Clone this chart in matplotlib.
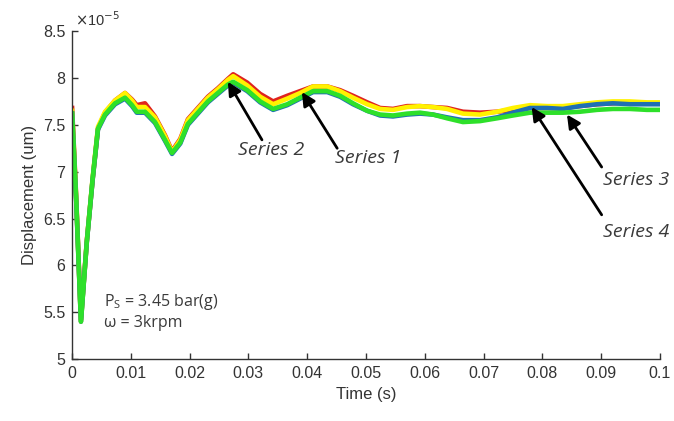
import matplotlib
matplotlib.use('Agg')
import matplotlib.pyplot as plt

# time axis (s) and displacement traces (x1e-5 um) for the four runs
time = [0, 0.0007, 0.0015, 0.0025, 0.0035, 0.0044, 0.0056, 0.0073, 0.009, 0.0102,
        0.011, 0.0124, 0.0141, 0.0158, 0.017, 0.0184, 0.0197, 0.0214, 0.0231, 0.0248,
        0.0265, 0.0274, 0.0298, 0.032, 0.0342, 0.0366, 0.0388, 0.041, 0.0434, 0.0456,
        0.0478, 0.0502, 0.0524, 0.0546, 0.057, 0.0592, 0.0614, 0.0638, 0.0665, 0.0694,
        0.0723, 0.075, 0.0779, 0.0808, 0.0835, 0.0864, 0.0893, 0.092, 0.0949, 0.0978, 0.1]

series_red = [7.68, 6.72, 5.42, 6.26, 6.92, 7.46, 7.63, 7.76, 7.84, 7.77,
              7.71, 7.73, 7.59, 7.39, 7.22, 7.35, 7.56, 7.68, 7.80, 7.89,
              7.99, 8.04, 7.95, 7.83, 7.75, 7.81, 7.86, 7.91, 7.91, 7.87,
              7.81, 7.74, 7.68, 7.67, 7.70, 7.70, 7.69, 7.68, 7.64, 7.63,
              7.64, 7.66, 7.68, 7.68, 7.68, 7.70, 7.72, 7.73, 7.74, 7.73, 7.73]

series_yellow = [7.65, 6.70, 5.40, 6.26, 6.94, 7.48, 7.64, 7.76, 7.84, 7.76,
                 7.69, 7.69, 7.58, 7.38, 7.21, 7.34, 7.55, 7.67, 7.79, 7.88,
                 7.98, 8.02, 7.92, 7.80, 7.72, 7.78, 7.84, 7.91, 7.91, 7.86,
                 7.79, 7.72, 7.67, 7.66, 7.69, 7.70, 7.69, 7.67, 7.62, 7.61,
                 7.64, 7.68, 7.71, 7.70, 7.70, 7.72, 7.74, 7.75, 7.75, 7.74, 7.74]

series_blue = [7.62, 6.68, 5.40, 6.25, 6.92, 7.45, 7.60, 7.72, 7.78, 7.70,
               7.63, 7.63, 7.52, 7.33, 7.19, 7.30, 7.50, 7.62, 7.74, 7.83,
               7.92, 7.95, 7.86, 7.74, 7.66, 7.71, 7.78, 7.85, 7.85, 7.80,
               7.72, 7.65, 7.60, 7.59, 7.61, 7.62, 7.61, 7.58, 7.55, 7.55,
               7.58, 7.63, 7.68, 7.68, 7.67, 7.70, 7.72, 7.73, 7.72, 7.72, 7.72]

series_green = [7.62, 6.69, 5.40, 6.25, 6.93, 7.46, 7.61, 7.73, 7.79, 7.71,
                7.64, 7.64, 7.53, 7.34, 7.20, 7.31, 7.51, 7.63, 7.75, 7.84,
                7.93, 7.96, 7.87, 7.75, 7.67, 7.72, 7.79, 7.86, 7.86, 7.81,
                7.73, 7.65, 7.61, 7.60, 7.62, 7.63, 7.61, 7.57, 7.53, 7.54,
                7.57, 7.60, 7.63, 7.63, 7.63, 7.64, 7.66, 7.67, 7.67, 7.66, 7.66]

# label text, arrow tip, arrow tail, label centre
callouts = [
    ('Series 2', (0.0265, 7.96), (0.0323, 7.34), (0.0338, 7.23)),
    ('Series 1', (0.0391, 7.85), (0.0451, 7.25), (0.0503, 7.15)),
    ('Series 3', (0.0842, 7.61), (0.0901, 7.05), (0.0959, 6.91)),
    ('Series 4', (0.0782, 7.69), (0.0901, 6.54), (0.0959, 6.36)),
]

plt.rcParams['font.family'] = ['Liberation Sans', 'DejaVu Sans']

fig = plt.figure(figsize=(6.74, 4.21), dpi=100)
ax = fig.add_axes([0.107, 0.147, 0.872, 0.779])

lw = 3.3
ax.plot(time, series_red, color='#e0231e', lw=lw, solid_joinstyle='round')
ax.plot(time, series_yellow, color='#fff200', lw=lw, solid_joinstyle='round')
ax.plot(time, series_blue, color='#1f6fb4', lw=lw, solid_joinstyle='round')
ax.plot(time, series_green, color='#2ee02a', lw=lw, solid_joinstyle='round')

ax.set_xlim(0, 0.1)
ax.set_ylim(5, 8.5)
ax.set_xticks([0, 0.01, 0.02, 0.03, 0.04, 0.05, 0.06, 0.07, 0.08, 0.09, 0.1])
ax.set_xticklabels(['0', '0.01', '0.02', '0.03', '0.04', '0.05', '0.06', '0.07',
                    '0.08', '0.09', '0.1'])
ax.set_yticks([5, 5.5, 6, 6.5, 7, 7.5, 8, 8.5])
ax.set_yticklabels(['5', '5.5', '6', '6.5', '7', '7.5', '8', '8.5'])

for side in ['top', 'right']:
    ax.spines[side].set_visible(False)
for side in ['left', 'bottom']:
    ax.spines[side].set_color('#333333')
    ax.spines[side].set_linewidth(1.0)
ax.tick_params(direction='in', length=4, width=1, colors='#333333',
               labelsize=11.5, labelcolor='#333333', pad=5)

ax.set_xlabel('Time (s)', fontsize=12, color='#333333', labelpad=4)
ax.set_ylabel('Displacement (um)', fontsize=12, color='#333333', labelpad=4)

ax.text(0.0005, 8.52, r'$\times$10$^{-5}$', fontsize=10.5, color='#333333',
        ha='left', va='bottom')

# operating conditions
ax.text(0.0054, 5.61, r'P$_\mathregular{S}$ = 3.45 bar(g)', fontsize=11.5,
        color='#3a3a3a', va='center', family=['Open Sans', 'DejaVu Sans'])
ax.text(0.0054, 5.39, 'ω = 3krpm', fontsize=11.5, color='#3a3a3a', va='center',
        family=['Open Sans', 'DejaVu Sans'])

for label, tip, tail, pos in callouts:
    ax.annotate('', xy=tip, xytext=tail,
                arrowprops=dict(arrowstyle='-|>,head_length=0.8,head_width=0.4',
                                color='black', lw=2.0, shrinkA=0, shrinkB=0))
    ax.text(pos[0], pos[1], label, fontsize=14, style='italic', color='#3a3a3a',
            ha='center', va='center', family=['Open Sans', 'DejaVu Sans'])

fig.savefig('out.png', dpi=100)
